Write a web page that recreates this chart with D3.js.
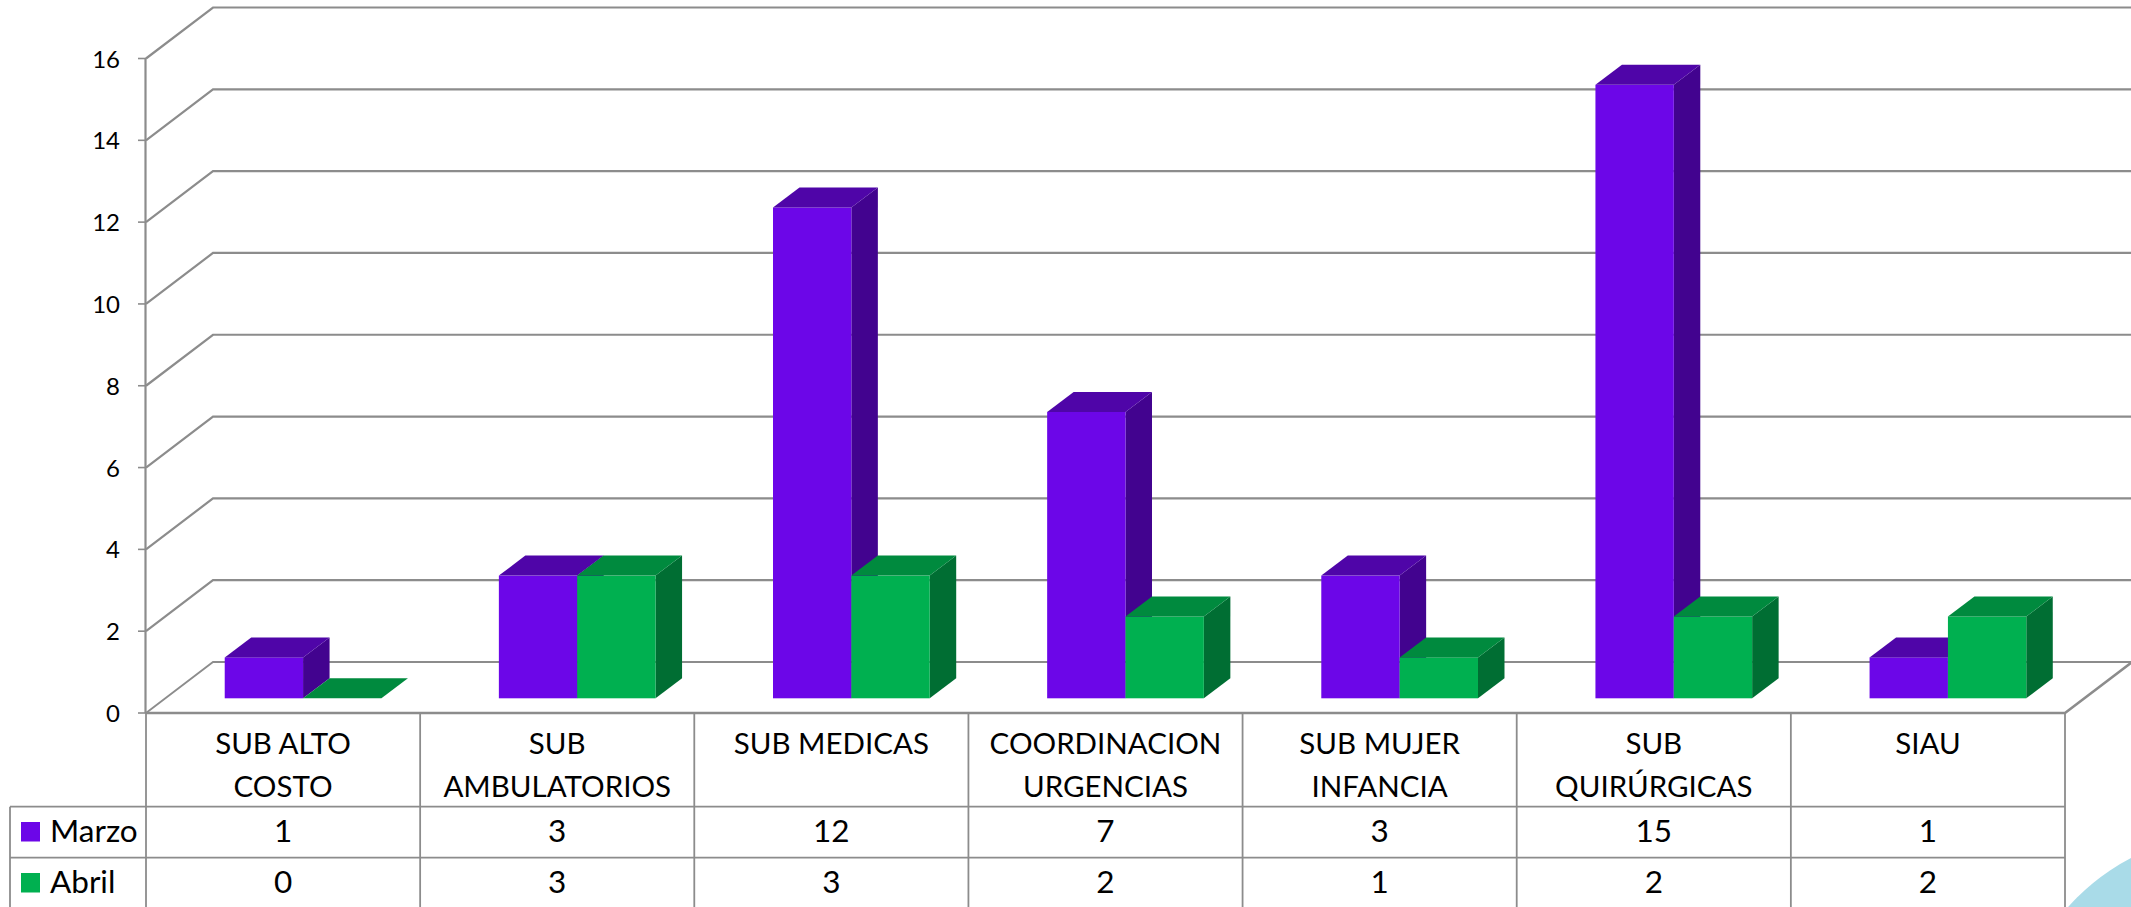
<!DOCTYPE html>
<html><head><meta charset="utf-8">
<script src="https://cdn.jsdelivr.net/npm/d3@7"></script>
<style>html,body{margin:0;padding:0;background:#fff;overflow:hidden}svg{display:block}text{font-family:Lato,"Open Sans",sans-serif;fill:#000}</style>
</head><body><svg id="c" width="2131" height="907"></svg>
<script>
const categories=[["SUB ALTO","COSTO"],["SUB","AMBULATORIOS"],["SUB MEDICAS"],["COORDINACION","URGENCIAS"],["SUB MUJER","INFANCIA"],["SUB","QUIRÚRGICAS"],["SIAU"]];
const seriesNames=["Marzo","Abril"];
const marzo=[1,3,12,7,3,15,1];
const abril=[0,3,3,2,1,2,2];
const yTicks=[0,2,4,6,8,10,12,14,16];
const faceColors={Marzo:["#6c06e8","#4f05a8","#42038f"],Abril:["#00b050","#008a3e","#006e33"]};
const grid="#8c8c8c";
const svg=d3.select("#c");
const L=146,R=2065,T0=713,T1=806.7,T2=857.7,B=907;
const DX=67,DY=51,bdx=26.5,bdy=20;
const yAxis=d3.scaleLinear().domain([0,16]).range([T0,58.5]);
const yBar=d3.scaleLinear().domain([0,16]).range([698.3,43.9]);
const idx=categories.map((_,i)=>i);
const x=d3.scaleBand().domain(idx).range([L,R]);
const xs=d3.scaleBand().domain(seriesNames).range([0,156.7]);
const barOff=(x.bandwidth()-156.7)/2+20;

// decorative corner
svg.append("circle").attr("cx",2230).attr("cy",1050).attr("r",216).attr("fill","#a9dbe8");

// gridlines
svg.append("g").selectAll("path").data(yTicks).join("path")
 .attr("fill","none").attr("stroke",grid).attr("stroke-width",d=>d===0?1.8:2.2)
 .attr("d",d=>{const y=yAxis(d);return `M${L},${y}L${L+DX},${y-DY}L${2135},${y-DY}`});
svg.append("path").attr("fill","none").attr("stroke",grid).attr("stroke-width",2.6)
 .attr("d",`M${L},${T0}L${R},${T0}L${R+DX},${T0-DY}`);
svg.append("line").attr("x1",L-0.5).attr("x2",L-0.5).attr("y1",yAxis(16)).attr("y2",T0).attr("stroke",grid).attr("stroke-width",2.2);

// y axis
const ag=svg.append("g").selectAll("g").data(yTicks).join("g");
ag.append("line").attr("x1",L-8).attr("x2",L).attr("y1",d=>yAxis(d)).attr("y2",d=>yAxis(d)).attr("stroke",grid).attr("stroke-width",1.6);
ag.append("text").attr("x",120).attr("y",d=>yAxis(d)+9).attr("text-anchor","end").attr("font-size",24).text(d=>d);

// bars
const data=[];
idx.forEach(i=>{data.push({i,s:"Marzo",v:marzo[i]});data.push({i,s:"Abril",v:abril[i]});});
const bars=svg.append("g").selectAll("g").data(data).join("g");
const bx=d=>x(d.i)+barOff+xs(d.s), bw=xs.bandwidth();
bars.append("path").attr("fill",d=>faceColors[d.s][2]).attr("d",d=>{const a=bx(d)+bw,t=yBar(d.v),b=yBar(0);
 return `M${a},${t}L${a+bdx},${t-bdy}L${a+bdx},${b-bdy}L${a},${b}Z`});
bars.append("rect").attr("x",bx).attr("width",bw).attr("y",d=>yBar(d.v)).attr("height",d=>yBar(0)-yBar(d.v)).attr("fill",d=>faceColors[d.s][0]);
bars.append("path").attr("fill",d=>faceColors[d.s][1]).attr("d",d=>{const a=bx(d),t=yBar(d.v);
 return `M${a},${t}L${a+bdx},${t-bdy}L${a+bw+bdx},${t-bdy}L${a+bw},${t}Z`});

// data table
const tg=svg.append("g").attr("stroke",grid).attr("stroke-width",1.8).attr("fill","none");
[...idx,7].forEach(i=>{const xx=i===7?R:x(i);tg.append("line").attr("x1",xx).attr("x2",xx).attr("y1",T0).attr("y2",B);});
tg.append("line").attr("x1",10).attr("x2",R).attr("y1",T1).attr("y2",T1);
tg.append("line").attr("x1",10).attr("x2",R).attr("y1",T2).attr("y2",T2);
tg.append("line").attr("x1",10).attr("x2",10).attr("y1",T1).attr("y2",B);

const mid=i=>x(i)+x.bandwidth()/2;
const lineY=[754,796.5];
svg.append("g").selectAll("text").data(idx).join("text").attr("text-anchor","middle").attr("font-size",29.5)
 .attr("x",mid).each(function(i){d3.select(this).selectAll("tspan").data(categories[i]).join("tspan").attr("x",mid(i)).attr("y",(_,k)=>lineY[k]).text(d=>d);});
const rows=[{n:"Marzo",v:marzo,y:842,sy:822},{n:"Abril",v:abril,y:893,sy:873}];
rows.forEach(r=>{
 svg.append("rect").attr("x",21).attr("y",r.sy).attr("width",19).attr("height",19.5).attr("fill",faceColors[r.n][0]);
 svg.append("text").attr("x",50).attr("y",r.y).attr("font-size",31.5).text(r.n);
 svg.append("g").selectAll("text").data(r.v).join("text").attr("x",(_,i)=>mid(i)).attr("y",r.y).attr("text-anchor","middle").attr("font-size",31.5).text(d=>d);
});
</script></body></html>
